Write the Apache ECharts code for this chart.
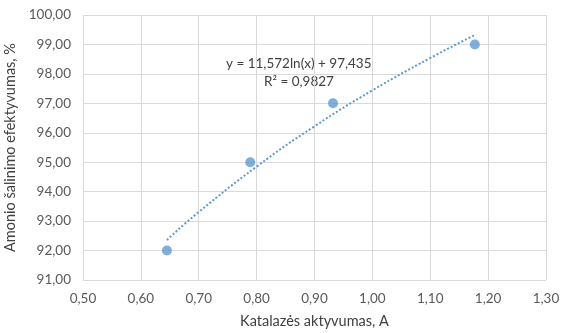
<!DOCTYPE html>
<html>
<head>
<meta charset="utf-8">
<script src="https://cdn.jsdelivr.net/npm/echarts@6/dist/echarts.min.js"></script>
<style>
  html, body { margin: 0; padding: 0; background: #fff; }
  #chart { width: 561px; height: 333px; }
</style>
</head>
<body>
<div id="chart"></div>
<script>
// measured points
const activity = [0.645, 0.789, 0.932, 1.177];
const efficiency = [92.0, 95.0, 97.0, 99.0];

// trendline (dotted log fit)
const trendX = [0.645, 0.70, 0.80, 0.90, 1.00, 1.10, 1.177];
const trendY = [92.36, 93.31, 94.85, 96.22, 97.44, 98.54, 99.32];

const eqLine = 'y = 11,572ln(x) + 97,435';
const r2Line = 'R² = 0,9827';

const fmt = (v, d) => v.toFixed(d).replace('.', ',');
const FONT = 'Lato, "Open Sans", sans-serif';
const BLUE = '#5b9bd5';

const chart = echarts.init(document.getElementById('chart'));
chart.setOption({
    animation: false,
    grid: { left: 83, right: 15, top: 15, bottom: 53, containLabel: false, outerBoundsMode: 'none' },
    xAxis: {
        type: 'value', min: 0.5, max: 1.3, interval: 0.1,
        name: 'Katalazės aktyvumas, A', nameLocation: 'middle', nameGap: 34,
        nameTextStyle: { color: '#404040', fontSize: 14.5, fontFamily: FONT },
        axisLine: { show: false }, axisTick: { show: false },
        axisLabel: { color: '#595959', fontSize: 13.5, fontFamily: FONT, margin: 12, formatter: v => fmt(v, 2) },
        splitLine: { lineStyle: { color: '#d9d9d9' } }
    },
    yAxis: {
        type: 'value', min: 91, max: 100, interval: 1,
        name: 'Amonio šalinimo efektyvumas, %', nameLocation: 'middle', nameGap: 58,
        nameTextStyle: { color: '#404040', fontSize: 14.5, fontFamily: FONT },
        axisLine: { show: false }, axisTick: { show: false },
        axisLabel: { color: '#595959', fontSize: 13.5, fontFamily: FONT, margin: 12, formatter: v => fmt(v, 2) },
        splitLine: { lineStyle: { color: '#d9d9d9' } }
    },
    graphic: [
        { type: 'text', left: 226, top: 57, style: { text: eqLine, fill: '#404040', font: '13.5px ' + FONT } },
        { type: 'text', left: 264, top: 75, style: { text: r2Line, fill: '#404040', font: '13.5px ' + FONT } }
    ],
    series: [
        {
            type: 'line', data: trendX.map((x, i) => [x, trendY[i]]),
            smooth: true, symbol: 'none',
            lineStyle: { color: BLUE, width: 2, type: [2, 2] }
        },
        {
            type: 'scatter', data: activity.map((x, i) => [x, efficiency[i]]),
            symbolSize: 10, itemStyle: { color: BLUE }
        }
    ]
});
</script>
</body>
</html>
